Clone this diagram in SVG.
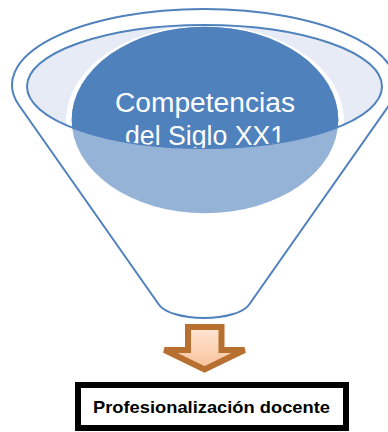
<svg xmlns="http://www.w3.org/2000/svg" width="388" height="432" viewBox="0 0 388 432">
  <style>
    .outline { fill: none; stroke: #4F81BD; stroke-width: 2; }
    .title { font-family: "Liberation Sans", Arial, sans-serif; font-size: 27px; fill: #FFFFFF; text-anchor: middle; }
    .label { font-family: "Liberation Sans", Arial, sans-serif; font-size: 16.5px; font-weight: bold; fill: #000000; text-anchor: middle; }
  </style>
  <defs>
    <clipPath id="innerClip">
      <ellipse cx="204.5" cy="86.5" rx="177.5" ry="61.5"/>
    </clipPath>
    <linearGradient id="arrowGrad" x1="0" y1="0" x2="0" y2="1">
      <stop offset="0" stop-color="#FEE6D4"/>
      <stop offset="1" stop-color="#F9C199"/>
    </linearGradient>
  </defs>

  <g id="funnel">
    <path class="outline" fill="#FFFFFF" d="M 19,105.3 A 192 76 0 1 1 389,105.3 L 249,304.7 A 46.6 18 0 0 1 159,304.7 Z"/>
    <ellipse cx="204.5" cy="86.5" rx="177.5" ry="61.5" fill="#E6EBF5"/>
  </g>

  <g id="competencias">
    <ellipse cx="205" cy="120.5" rx="139" ry="95" fill="#FFFFFF"/>
    <ellipse cx="205" cy="120" rx="133.3" ry="93.3" fill="#95B3D7"/>
    <ellipse cx="205" cy="120" rx="133.3" ry="93.3" fill="#4F81BD" clip-path="url(#innerClip)"/>
    <ellipse class="outline" cx="204.5" cy="86.5" rx="177.5" ry="61.5"/>
    <g clip-path="url(#innerClip)">
      <text class="title" x="205" y="112" textLength="180" lengthAdjust="spacingAndGlyphs">Competencias</text>
      <text class="title" x="205" y="145" textLength="160" lengthAdjust="spacingAndGlyphs">del Siglo XX1</text>
    </g>
  </g>

  <g id="connectors">
    <polygon points="188,327 221.5,327 221.5,350 244.5,350 204.5,369.5 164.5,350 188,350" fill="url(#arrowGrad)" stroke="#B7702F" stroke-width="6" stroke-linejoin="miter"/>
  </g>

  <g id="profesionalizacion">
    <rect x="78" y="385" width="268" height="43" fill="#FFFFFF" stroke="#000000" stroke-width="6"/>
    <text class="label" x="211.5" y="413" textLength="237" lengthAdjust="spacingAndGlyphs">Profesionalización docente</text>
  </g>
</svg>
